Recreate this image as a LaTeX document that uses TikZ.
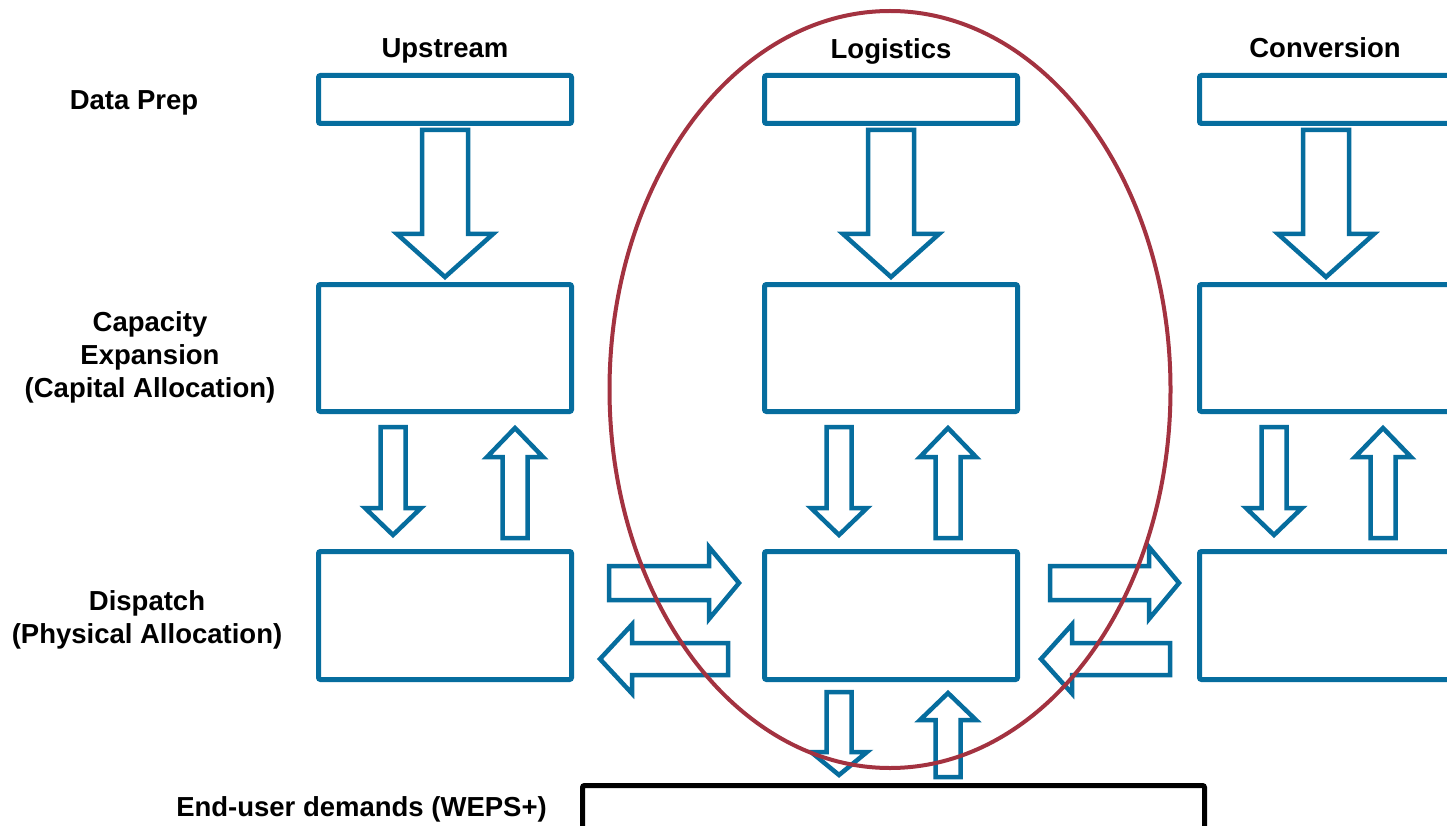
\documentclass[tikz,border=0pt]{standalone}
\usepackage{fontspec}
\setmainfont{Liberation Sans}
\definecolor{flowblue}{RGB}{6,109,158}
\definecolor{scopered}{RGB}{163,50,64}

% vertical block arrow: x, tail y, head-base y, tip y, shaft half width, head half width
\newcommand{\vblock}[6]{%
  \draw[blockarrow] (#1-#5,#2) -- (#1-#5,#3) -- (#1-#6,#3) -- (#1,#4)
    -- (#1+#6,#3) -- (#1+#5,#3) -- (#1+#5,#2) -- cycle;}
% horizontal block arrow: y, tail x, head-base x, tip x, shaft half width, head half width
\newcommand{\hblock}[6]{%
  \draw[blockarrow] (#2,#1-#5) -- (#3,#1-#5) -- (#3,#1-#6) -- (#4,#1)
    -- (#3,#1+#6) -- (#3,#1+#5) -- (#2,#1+#5) -- cycle;}

\tikzset{
  stagebox/.style={draw=flowblue, line width=5pt, rounded corners=2pt, fill=white,
    minimum width=253pt, inner sep=0pt, outer sep=0pt},
  blockarrow/.style={draw=flowblue, line width=4.5pt, fill=white, miter limit=10},
  label/.style={font=\fontsize{27.5}{33}\selectfont\bfseries, align=center,
    inner sep=0pt, text=black},
}

\begin{document}
\begin{tikzpicture}[x=1pt,y=-1pt]
\path[use as bounding box] (0,0) rectangle (1447,826);
\clip (0,0) rectangle (1447,826);
\fill[white] (0,0) rectangle (1447,826);

% column headings
\node[label] (hUp)   at (445,51) {Upstream};
\node[label] (hLog)  at (891,51) {Logistics};
\node[label] (hConv) at (1325,48) {Conversion};

% row headings
\node[label] (rPrep) at (134,103) {Data Prep};
\node[label] (rCap)  at (150,357) {Capacity\\Expansion\\(Capital Allocation)};
\node[label] (rDisp) at (147,620) {Dispatch\\(Physical Allocation)};
\node[label, anchor=east] (rEnd) at (547,809) {End-user demands (WEPS+)};

% stage boxes
\foreach \n/\cx in {up/445, log/891, conv/1326}{
  \node[stagebox, minimum height=48pt]  (\n1) at (\cx,99.5) {};
  \node[stagebox, minimum height=127pt] (\n2) at (\cx,348) {};
  \node[stagebox, minimum height=128pt] (\n3) at (\cx,615.5) {};
}

% end-user demand bar
\draw[line width=5pt, rounded corners=2pt] (582.5,785.5) rectangle (1204.5,860);
\node[inner sep=0pt] (demand) at (893.5,805) {};

% data prep -> capacity expansion
\vblock{445}{130}{234}{277}{23}{48}
\vblock{891}{130}{234}{277}{23}{48}
\vblock{1326}{130}{234}{277}{23}{48}

% capacity expansion <-> dispatch
\vblock{393}{427}{508}{535}{12.5}{28}
\vblock{515}{538}{457}{428}{12.5}{28}
\vblock{839}{427}{508}{535}{12.5}{28}
\vblock{948}{538}{457}{428}{12.5}{28}
\vblock{1274}{427}{508}{535}{12.5}{28}
\vblock{1383}{538}{457}{428}{12.5}{28}

% dispatch exchanges between neighbouring stages
\hblock{583}{609}{709}{739}{17}{36}
\hblock{659}{728}{632}{600}{16}{34.5}
\hblock{583}{1050}{1149}{1179}{17}{36}
\hblock{659}{1170}{1072}{1041}{16}{34.5}

% logistics dispatch <-> end-user demands
\vblock{839}{692}{752}{775}{12.5}{28}
\vblock{948}{777}{720}{693}{12.5}{28}

% logistics scope
\draw[scopered, line width=4pt] (890,389.5) ellipse [x radius=280.5pt, y radius=378.5pt];
\end{tikzpicture}
\end{document}
